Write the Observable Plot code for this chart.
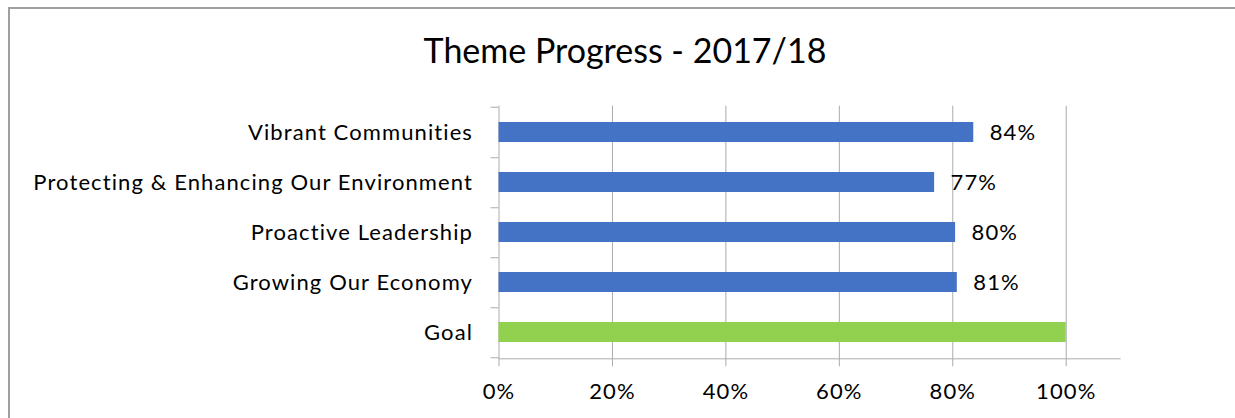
<!DOCTYPE html>
<html>
<head>
<meta charset="utf-8">
<script src="https://cdn.jsdelivr.net/npm/d3@7"></script>
<script src="https://cdn.jsdelivr.net/npm/@observablehq/plot@0.6"></script>
<style>
  html, body { margin: 0; padding: 0; background: #fff; }
  #wrap { position: relative; width: 1235px; height: 418px; overflow: hidden; background: #fff; font-family: Lato, "Open Sans", sans-serif; }
  #frame { position: absolute; left: 8px; top: 7px; right: -10px; bottom: -10px; border-top: 2px solid #a0a0a0; border-left: 2px solid #a0a0a0; pointer-events: none; }
  #title { height: 85px; text-align: center; font-size: 34px; color: #000; padding-left: 15px; box-sizing: border-box; line-height: 1; padding-top: 33px; }
  svg { display: block; }
</style>
</head>
<body>
<div id="wrap">
  <div id="frame"></div>
  <div id="title">Theme Progress - 2017/18</div>
  <div id="chart"></div>
</div>
<script>
const categories = ["Vibrant Communities", "Protecting & Enhancing Our Environment", "Proactive Leadership", "Growing Our Economy", "Goal"];
const values = [83.7, 76.8, 80.5, 80.8, 100];
const valueLabels = ["84%", "77%", "80%", "81%", ""];
const xTicks = [0, 20, 40, 60, 80, 100];

const BLUE = "#4472C4";
const GREEN = "#92D050";
const GRID = "#ababab";

const data = categories.map((c, i) => ({category: c, value: values[i], label: valueLabels[i]}));

const chart = Plot.plot({
  width: 1235,
  height: 333,
  marginLeft: 498.5,
  marginRight: 115.4,
  marginTop: 20.7,
  marginBottom: 59.7,
  style: {fontFamily: "Lato, 'Open Sans', sans-serif", fontSize: "22px", letterSpacing: "1.1px", color: "#000", background: "transparent", overflow: "visible"},
  x: {domain: [0, 109.5], axis: null},
  y: {domain: categories, padding: 0, axis: null},
  marks: [
    Plot.gridX(xTicks.filter(d => d > 0), {stroke: GRID, strokeOpacity: 1}),
    Plot.ruleX([0], {stroke: GRID}),
    Plot.frame({anchor: "bottom", stroke: GRID}),
    Plot.axisX(xTicks, {label: null, tickSize: 8, tickPadding: 17, tickFormat: d => d + "%", stroke: GRID, fill: "#000", fontSize: 22}),
    Plot.axisY(categories, {label: null, tickSize: 0, tickPadding: 26, fill: "#000", fontSize: 22}),
    Plot.axisY(categories, {label: null, tickSize: 8, text: null, dy: 25.25, stroke: GRID}),
    Plot.axisY([categories[0]], {label: null, tickSize: 8, text: null, dy: -25.25, stroke: GRID}),
    Plot.barX(data, {x: "value", y: "category", fill: d => d.category === "Goal" ? GREEN : BLUE, insetTop: 15, insetBottom: 15}),
    Plot.text(data.filter(d => d.label), {x: "value", y: "category", text: "label", textAnchor: "start", dx: 16, fontSize: 22, fill: "#000"})
  ]
});
document.getElementById("chart").appendChild(chart);
</script>
</body>
</html>
